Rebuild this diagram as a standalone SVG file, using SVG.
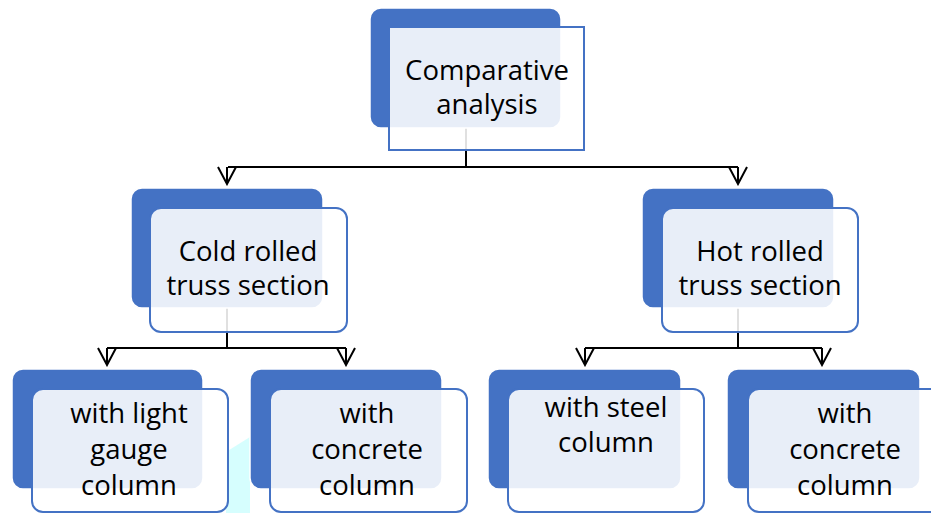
<svg xmlns="http://www.w3.org/2000/svg" width="931" height="513" viewBox="0 0 931 513">
<style>
.back{fill:#4472C4;stroke:#FFFFFF;stroke-width:1.5}
.front{fill:#FFFFFF;fill-opacity:0.88;stroke:#4472C4;stroke-width:2}
.lbl{font-family:"Open Sans","Noto Sans",sans-serif;font-size:27.5px;fill:#000000;text-anchor:middle}
.conn{fill:none;stroke:#000000;stroke-width:2}
</style>
<defs>
<marker id="arr" viewBox="0 0 20 20" refX="10" refY="18" markerWidth="20" markerHeight="20" markerUnits="userSpaceOnUse" orient="0">
<path d="M1,1 L10,18 L19,1" fill="none" stroke="#000000" stroke-width="2"/>
</marker>
</defs>
<rect width="931" height="513" fill="#FFFFFF"/>
<polygon points="226,452 250,437 250,513 226,513" fill="#D6FEFE"/>
<g id="connectors">
<path class="conn" d="M466,128 V167 H228"/>
<path class="conn" d="M466,167 H738"/>
<path class="conn" d="M227,167 V184" marker-end="url(#arr)"/>
<path class="conn" d="M738,167 V184" marker-end="url(#arr)"/>
<path class="conn" d="M227,308 V348 H107"/>
<path class="conn" d="M227,348 H346"/>
<path class="conn" d="M107,348 V365" marker-end="url(#arr)"/>
<path class="conn" d="M346,348 V365" marker-end="url(#arr)"/>
<path class="conn" d="M738,308 V348 H585"/>
<path class="conn" d="M738,348 H822"/>
<path class="conn" d="M585,348 V365" marker-end="url(#arr)"/>
<path class="conn" d="M822,348 V365" marker-end="url(#arr)"/>
</g>
<g id="node-comparative">
<rect class="back" x="370" y="8" width="191" height="120" rx="11"/>
<rect class="front" x="389" y="27" width="195" height="123"/>
<text class="lbl" x="487" y="80">Comparative</text>
<text class="lbl" x="487" y="114">analysis</text>
</g>
<g id="node-cold">
<rect class="back" x="131" y="188" width="192" height="120" rx="11"/>
<rect class="front" x="150" y="208" width="197" height="124" rx="11"/>
<text class="lbl" x="248" y="261">Cold rolled</text>
<text class="lbl" x="248" y="295">truss section</text>
</g>
<g id="node-hot">
<rect class="back" x="642" y="188" width="192" height="120" rx="11"/>
<rect class="front" x="662" y="208" width="196" height="124" rx="11"/>
<text class="lbl" x="760" y="261">Hot rolled</text>
<text class="lbl" x="760" y="295">truss section</text>
</g>
<g id="node-light-gauge">
<rect class="back" x="12" y="369" width="191" height="120" rx="11"/>
<rect class="front" x="32" y="389" width="196" height="123" rx="11"/>
<text class="lbl" x="129" y="423">with light</text>
<text class="lbl" x="129" y="459">gauge</text>
<text class="lbl" x="129" y="495">column</text>
</g>
<g id="node-concrete-left">
<rect class="back" x="250" y="369" width="192" height="120" rx="11"/>
<rect class="front" x="270" y="389" width="197" height="123" rx="11"/>
<text class="lbl" x="367" y="423">with</text>
<text class="lbl" x="367" y="459">concrete</text>
<text class="lbl" x="367" y="495">column</text>
</g>
<g id="node-steel">
<rect class="back" x="488" y="369" width="193" height="120" rx="11"/>
<rect class="front" x="508" y="389" width="196" height="123" rx="11"/>
<text class="lbl" x="606" y="417">with steel</text>
<text class="lbl" x="606" y="452">column</text>
</g>
<g id="node-concrete-right">
<rect class="back" x="727" y="369" width="193" height="120" rx="11"/>
<rect class="front" x="748" y="389" width="196" height="123" rx="11"/>
<text class="lbl" x="845" y="423">with</text>
<text class="lbl" x="845" y="459">concrete</text>
<text class="lbl" x="845" y="495">column</text>
</g>
</svg>
